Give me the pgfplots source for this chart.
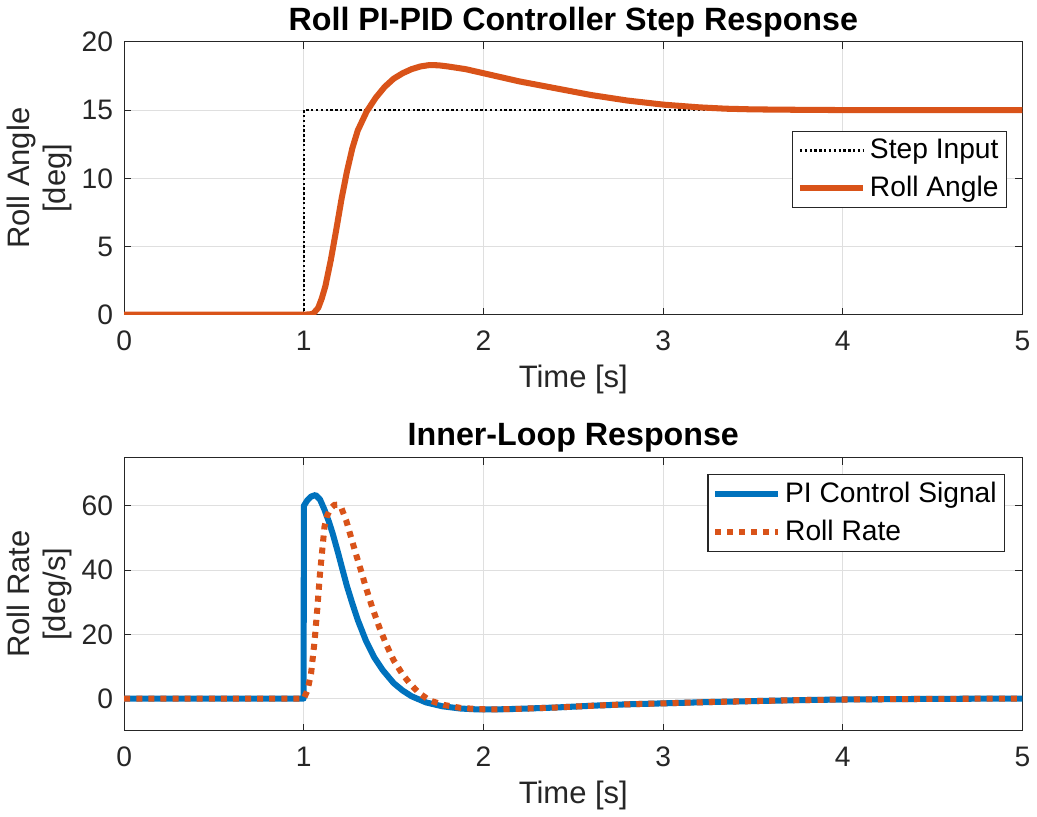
\documentclass[border=0pt]{standalone}
\usepackage{fontspec}
\setmainfont{Liberation Sans}
\usepackage{pgfplots}
\pgfplotsset{compat=1.18}
\definecolor{mblue}{rgb}{0,0.447,0.741}
\definecolor{morange}{rgb}{0.85,0.325,0.098}
\definecolor{axgray}{rgb}{0.15,0.15,0.15}
\definecolor{gridgray}{rgb}{0.875,0.875,0.875}
\pgfplotsset{
  mstyle/.style={
    scale only axis,
    width=446pt, height=135.5pt,
    xmin=0, xmax=5,
    xtick={0,1,2,3,4,5},
    grid=major,
    major grid style={gridgray, line width=0.5pt},
    axis line style={axgray, line width=0.6pt},
    tick style={axgray, line width=0.5pt},
    tick align=inside,
    tick pos=both,
    major tick length=3.5pt,
    /pgf/number format/assume math mode=true,
    tick label style={font=\fontsize{14}{16}\selectfont, color=axgray},
    xticklabel style={yshift=-4.5pt},
    yticklabel style={xshift=-2pt},
    label style={font=\fontsize{15.4}{18}\selectfont, color=axgray},
    ylabel style={align=center, yshift=-2pt},
    title style={font=\fontsize{16}{19}\selectfont\bfseries, yshift=-7pt},
    legend style={font=\fontsize{14}{17}\selectfont, draw=axgray, line width=0.6pt, inner sep=2pt, row sep=3pt, cells={anchor=west}},
    legend image code/.code={\draw[#1] (0cm,0cm) -- (1.1cm,0cm);},
  }
}
\begin{document}
\begin{tikzpicture}
\begin{axis}[mstyle,
  ymin=0, ymax=20, ytick={0,5,10,15,20},
  title={Roll PI-PID Controller Step Response},
  xlabel={Time [s]},
  ylabel={Roll Angle\\{[deg]}},
  legend style={at={(rel axis cs:0.983,0.675)}, anchor=north east},
]
\addplot[black, line width=1.3pt, dash pattern=on 1.2pt off 1.2pt] coordinates {(0,0) (1,0) (1,15) (5,15)};
\addlegendentry{Step Input}
\addplot[morange, line width=3pt, line join=round] coordinates {
(0,0) (1,0) (1.05,0.05) (1.08,0.5) (1.1,1.2) (1.12,2.1) (1.15,4) (1.18,6.2) (1.21,8.5) (1.24,10.5) (1.27,12.2) (1.30,13.5) (1.35,14.9) (1.40,15.9) (1.45,16.7) (1.5,17.3) (1.55,17.7) (1.6,18.0) (1.65,18.2) (1.7,18.3) (1.75,18.28) (1.8,18.2) (1.9,18.0) (2.0,17.7) (2.1,17.4) (2.2,17.1) (2.3,16.85) (2.4,16.6) (2.5,16.35) (2.6,16.1) (2.7,15.9) (2.8,15.7) (2.9,15.55) (3.0,15.4) (3.1,15.3) (3.2,15.2) (3.35,15.1) (3.5,15.05) (3.75,15.02) (4,15.0) (5,15.0)};
\addlegendentry{Roll Angle}
\end{axis}
\begin{axis}[mstyle, at={(0,-206.5pt)},
  ymin=-10, ymax=75, ytick={0,20,40,60},
  title={Inner-Loop Response},
  xlabel={Time [s]},
  ylabel={Roll Rate\\{[deg/s]}},
  legend style={at={(rel axis cs:0.981,0.941)}, anchor=north east},
]
\addplot[mblue, line width=3pt, line join=round] coordinates {
(0,0) (0.999,0) (1.0,60) (1.02,61.8) (1.04,62.9) (1.065,63.4) (1.09,62) (1.115,58.8) (1.14,55) (1.16,51.5) (1.19,45.5) (1.216,40) (1.24,35) (1.27,29.6) (1.30,24.5) (1.345,18.1) (1.39,13) (1.44,8.8) (1.50,4.8) (1.55,2.5) (1.60,0.7) (1.68,-1.2) (1.77,-2.4) (1.87,-3.1) (1.97,-3.4) (2.06,-3.4) (2.2,-3.2) (2.4,-2.8) (2.62,-2.2) (2.8,-1.8) (3.0,-1.5) (3.25,-1.1) (3.5,-0.8) (3.75,-0.5) (4.0,-0.3) (4.5,-0.1) (5.0,0)};
\addlegendentry{PI Control Signal}
\addplot[morange, line width=3pt, dash pattern=on 3pt off 3pt] coordinates {
(0,0) (1.0,0) (1.02,2.5) (1.04,7.7) (1.06,18) (1.075,28) (1.09,39) (1.115,53.5) (1.13,57) (1.15,59.3) (1.17,60.3) (1.19,60.4) (1.21,59.2) (1.235,55.6) (1.26,50.8) (1.29,45) (1.32,39.5) (1.345,34.7) (1.38,28.5) (1.42,22.2) (1.46,16.7) (1.50,11.9) (1.55,7.5) (1.59,4.7) (1.64,1.8) (1.70,-0.6) (1.78,-2.0) (1.87,-2.9) (1.97,-3.3) (2.06,-3.4) (2.2,-3.2) (2.4,-2.8) (2.62,-2.2) (2.8,-1.8) (3.0,-1.5) (3.25,-1.1) (3.5,-0.8) (3.75,-0.5) (4.0,-0.3) (4.5,-0.1) (5.0,0)};
\addlegendentry{Roll Rate}
\end{axis}
\end{tikzpicture}
\end{document}
